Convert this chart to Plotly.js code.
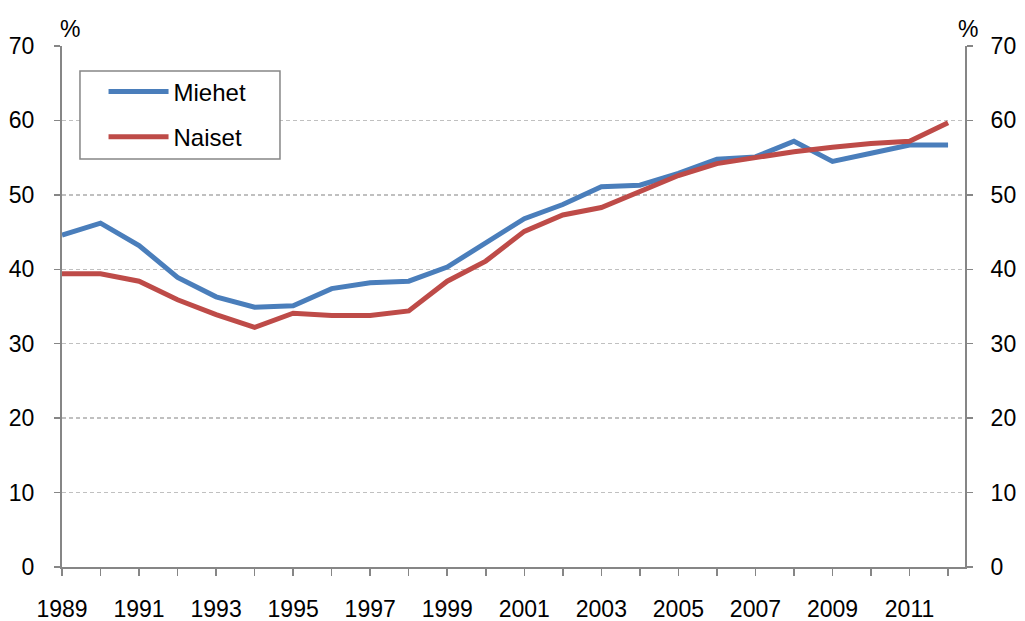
<!DOCTYPE html>
<html>
<head>
<meta charset="utf-8">
<script src="https://cdn.plot.ly/plotly-3.0.1.min.js"></script>
<style>html,body{margin:0;padding:0;background:#fff;}#chart{width:1025px;height:621px;}</style>
</head>
<body>
<div id="chart"></div>
<script>
const years = [1989,1990,1991,1992,1993,1994,1995,1996,1997,1998,1999,2000,2001,2002,2003,2004,2005,2006,2007,2008,2009,2010,2011,2012];
const miehet = [44.6,46.2,43.2,38.9,36.3,34.9,35.1,37.4,38.2,38.4,40.3,43.5,46.8,48.7,51.1,51.3,52.9,54.8,55.1,57.2,54.5,55.6,56.7,56.7];
const naiset = [39.4,39.4,38.4,35.9,33.9,32.2,34.1,33.8,33.8,34.4,38.4,41.1,45.1,47.3,48.3,50.5,52.6,54.2,55.0,55.8,56.4,56.9,57.2,59.7];
const seriesNames = ['Miehet','Naiset'];
const yTicks = [0,10,20,30,40,50,60,70];
const xTickText = years.map(y => (y % 2 === 1 ? String(y) : ''));

const fam = 'Liberation Sans, Arial, sans-serif';
const font = {family: fam, size: 23, color: '#000'};
const axisColor = '#868686';

const traces = [
  {x: years, y: miehet, name: seriesNames[0], type: 'scatter', mode: 'lines',
   line: {color: '#4A7EBB', width: 5}, legendgroup: 'a'},
  {x: years, y: naiset, name: seriesNames[1], type: 'scatter', mode: 'lines',
   line: {color: '#BE4B48', width: 5}, legendgroup: 'b'},
  {x: years, y: miehet, yaxis: 'y2', type: 'scatter', mode: 'lines', opacity: 0,
   showlegend: false, hoverinfo: 'skip', line: {width: 0}}
];

const layout = {
  width: 1025, height: 621,
  margin: {l: 62, r: 60, t: 46, b: 54},
  paper_bgcolor: '#fff', plot_bgcolor: '#fff',
  font: font,
  showlegend: true,
  legend: {x: 0.046, y: 0.955, xanchor: 'left', yanchor: 'top',
           borderwidth: 0, bgcolor: 'rgba(0,0,0,0)',
           font: {family: fam, size: 24, color: '#000'},
           tracegroupgap: 11, itemwidth: 60},
  shapes: [
    {type: 'rect', xref: 'paper', yref: 'paper', x0: 0.0199, x1: 0.2414, y0: 0.7831, y1: 0.952,
     line: {color: axisColor, width: 1.5}, fillcolor: 'rgba(255,255,255,1)', layer: 'above'}
  ],
  xaxis: {
    range: [1989, 2012.44], tickmode: 'array', tickvals: years, ticktext: xTickText,
    ticks: 'outside', ticklen: 7, tickcolor: axisColor, tickwidth: 1.5,
    showline: true, linecolor: axisColor, linewidth: 2, showgrid: false, zeroline: false,
    ticklabelstandoff: 13, tickfont: font
  },
  yaxis: {
    range: [0, 70], tickvals: yTicks, ticks: 'outside', ticklen: 6, tickcolor: axisColor, tickwidth: 1.5,
    showline: true, linecolor: axisColor, linewidth: 2,
    showgrid: true, gridcolor: '#C0C0C0', griddash: '4px,3px', gridwidth: 1.3, zeroline: false,
    ticklabelstandoff: 15, tickfont: font
  },
  yaxis2: {
    range: [0, 70], tickvals: yTicks, overlaying: 'y', side: 'right', ticks: 'outside', ticklen: 6,
    tickcolor: axisColor, tickwidth: 1.5, showline: true, linecolor: axisColor, linewidth: 2,
    showgrid: false, zeroline: false, ticklabelstandoff: 13, tickfont: font
  },
  annotations: [
    {text: '%', xref: 'paper', yref: 'paper', x: 0.009, y: 1.0, yshift: 2, xanchor: 'center', yanchor: 'bottom',
     showarrow: false, font: font},
    {text: '%', xref: 'paper', yref: 'paper', x: 1.003, y: 1.0, yshift: 2, xanchor: 'center', yanchor: 'bottom',
     showarrow: false, font: font}
  ]
};

Plotly.newPlot('chart', traces, layout, {displayModeBar: false, staticPlot: true});
</script>
</body>
</html>
